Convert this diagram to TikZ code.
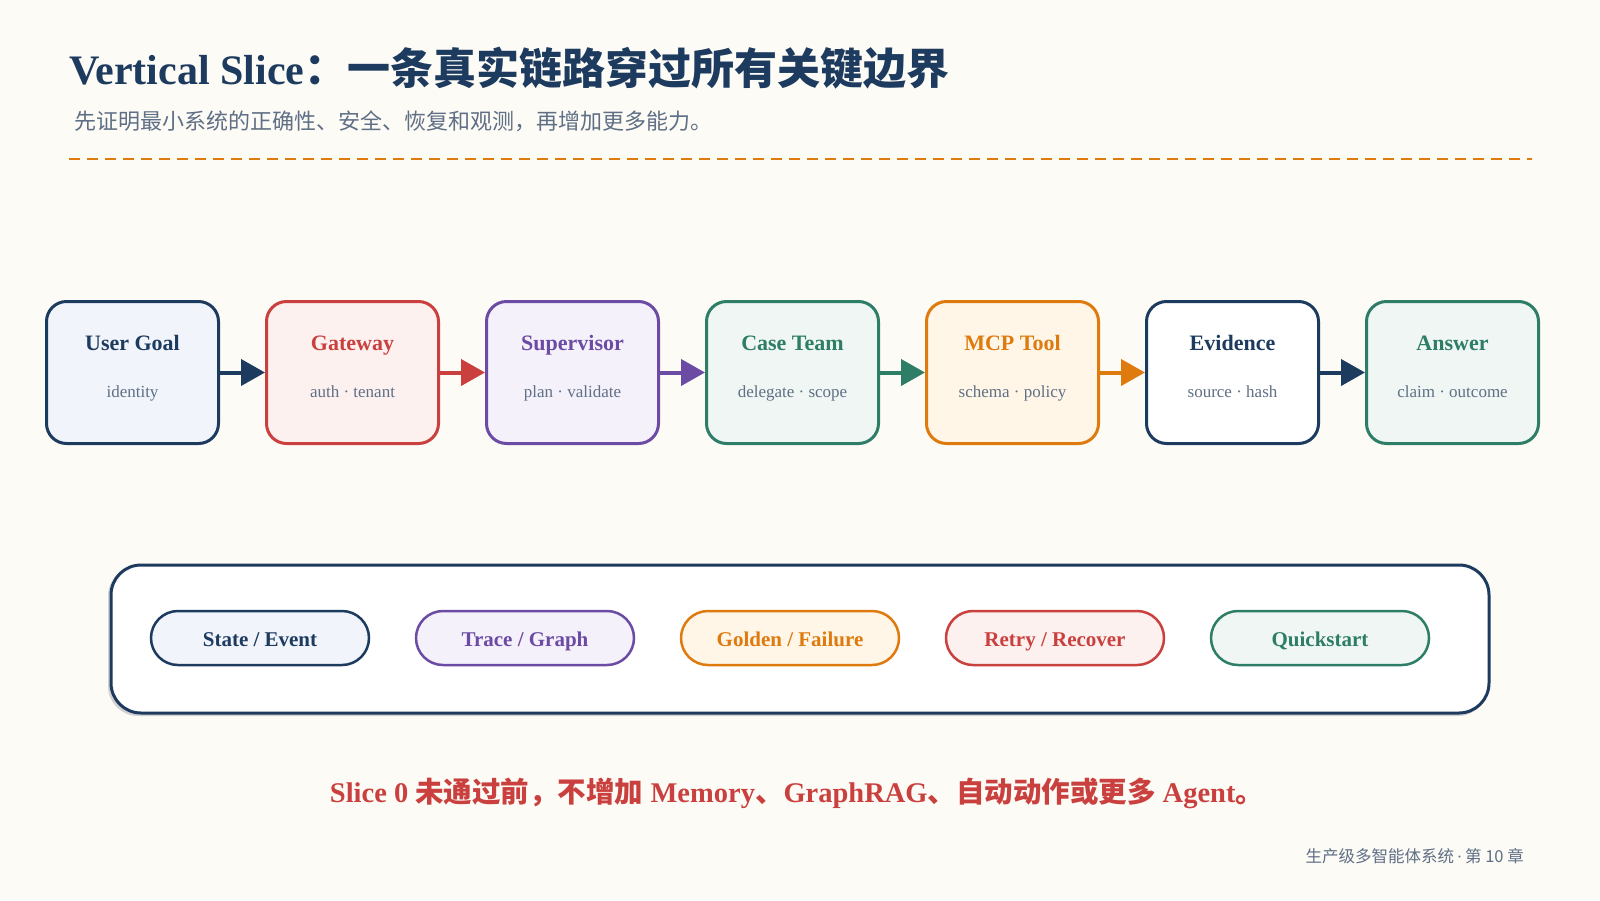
\documentclass[tikz,border=0pt]{standalone}
\usepackage{fontspec}
\setmainfont{Liberation Serif}
\newfontfamily\cjk{Noto Sans CJK SC}
\usetikzlibrary{arrows.meta}
\definecolor{bg}{HTML}{FDFBF6}
\definecolor{navy}{HTML}{1D3A5F}
\definecolor{cred}{HTML}{C9403E}
\definecolor{cpurple}{HTML}{6B4BA3}
\definecolor{cgreen}{HTML}{2E7D66}
\definecolor{corange}{HTML}{DF7A0E}
\definecolor{fnavy}{HTML}{F1F5FB}
\definecolor{fred}{HTML}{FDF1F0}
\definecolor{fpurple}{HTML}{F5F1FA}
\definecolor{fgreen}{HTML}{EFF6F3}
\definecolor{forange}{HTML}{FFF6E8}
\definecolor{fwhite}{HTML}{FFFFFF}
\definecolor{slate}{HTML}{5F6F85}
\tikzset{
  stepbox/.style={draw, line width=3pt, rounded corners=20pt, minimum width=172pt, minimum height=142pt, inner sep=0pt},
  boxtitle/.style={anchor=base, inner sep=0pt, font=\fontsize{22}{26}\selectfont\bfseries},
  boxsub/.style={anchor=base, inner sep=0pt, text=slate, font=\fontsize{17}{20}\selectfont},
  flow/.style={line width=4pt, -{Triangle[length=24pt,width=26pt]}},
  pill/.style={draw, line width=2.5pt, rounded corners=27pt, minimum width=218pt, minimum height=54pt, inner sep=0pt},
  pilltext/.style={anchor=base, inner sep=0pt, font=\fontsize{21}{24}\selectfont\bfseries},
}
\begin{document}
\begin{tikzpicture}[x=1pt,y=-1pt]
\fill[bg] (0,0) rectangle (1600,900);
\useasboundingbox (0,0) rectangle (1600,900);

% header
\node[anchor=base west, inner sep=0pt, text=navy] (title) at (69,84)
  {\fontsize{42}{46}\selectfont\bfseries Vertical Slice{\cjk\fontsize{43}{46}\selectfont ：一条真实链路穿过所有关键边界}};
\node[anchor=west, inner sep=0pt, text=slate] (subtitle) at (74,121)
  {\cjk\fontsize{22}{26}\selectfont 先证明最小系统的正确性、安全、恢复和观测，再增加更多能力。};
\draw[corange, line width=2.5pt, dash pattern=on 11pt off 7pt] (69,159) -- (1532,159);

% flow boxes
\foreach \i/\col/\fil/\t/\s in {
  1/navy/fnavy/User Goal/identity,
  2/cred/fred/Gateway/auth · tenant,
  3/cpurple/fpurple/Supervisor/plan · validate,
  4/cgreen/fgreen/Case Team/delegate · scope,
  5/corange/forange/MCP Tool/schema · policy,
  6/navy/fwhite/Evidence/source · hash,
  7/cgreen/fgreen/Answer/claim · outcome}{
  \node[stepbox, draw=\col, fill=\fil] (b\i) at ({132.5+(\i-1)*220},372.5) {};
  \node[boxtitle, text=\col] (t\i) at ([yshift=22.5pt]b\i.center) {\t};
  \node[boxsub] (s\i) at ([yshift=-24.5pt]b\i.center) {\s};
}
\draw[flow, navy] (b1.east) -- (b2.west);
\draw[flow, cred] (b2.east) -- (b3.west);
\draw[flow, cpurple] (b3.east) -- (b4.west);
\draw[flow, cgreen] (b4.east) -- (b5.west);
\draw[flow, corange] (b5.east) -- (b6.west);
\draw[flow, navy] (b6.east) -- (b7.west);

% container
\fill[gray!35, rounded corners=30pt] (108,566) rectangle (1488,716);
\node[draw=navy, fill=white, line width=3pt, rounded corners=30pt, minimum width=1378pt, minimum height=148pt, inner sep=0pt] (panel) at (800,639) {};

\foreach \i/\col/\fil/\x in {1/navy/fnavy/260, 2/cpurple/fpurple/525, 3/corange/forange/790, 4/cred/fred/1055, 5/cgreen/fgreen/1320}{
  \node[pill, draw=\col, fill=\fil] (p\i) at (\x,638) {};
}
\node[pilltext, text=navy] (q1) at ([yshift=-8pt]p1.center) {State / Event};
\node[pilltext, text=cpurple] (q2) at ([yshift=-8pt]p2.center) {Trace / Graph};
\node[pilltext, text=corange] (q3) at ([yshift=-8pt]p3.center) {Golden / Failure};
\node[pilltext, text=cred] (q4) at ([yshift=-8pt]p4.center) {Retry / Recover};
\node[pilltext, text=cgreen] (q5) at ([yshift=-8pt]p5.center) {Quickstart};

% bottom note
\node[anchor=base, inner sep=0pt, text=cred, font=\fontsize{28.5}{32}\selectfont\bfseries] (note) at (797,802)
  {Slice 0 {\cjk 未通过前，不增加} Memory{\cjk 、}GraphRAG{\cjk 、自动动作或更多} Agent{\cjk 。}};

\node[anchor=east, inner sep=0pt, text=slate, font=\cjk\fontsize{16.5}{20}\selectfont] (footer) at (1524,856)
  {生产级多智能体系统{\rmfamily\,·\,}第 10 章};
\end{tikzpicture}
\end{document}
